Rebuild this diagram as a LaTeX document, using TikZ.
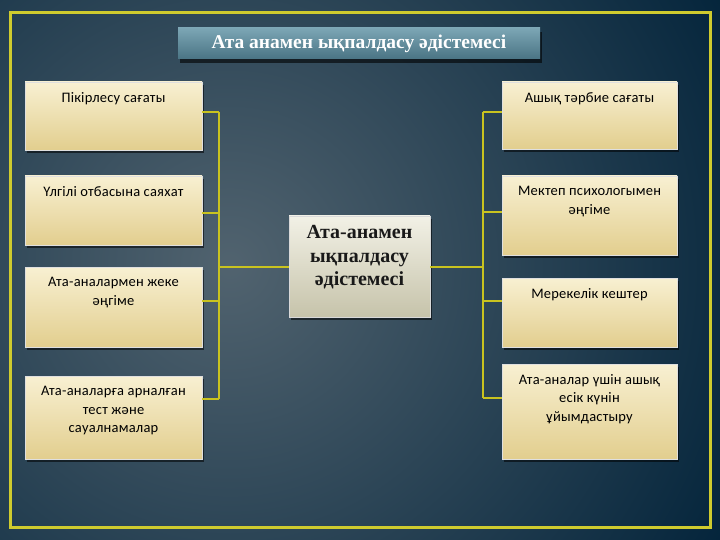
\documentclass[tikz,border=0pt]{standalone}
\usepackage{fontspec}
\setmainfont{Liberation Serif}
\newfontfamily\boxfont[LetterSpace=1.5]{Carlito}
\usetikzlibrary{shadows}
\definecolor{bglight}{HTML}{51636F}
\definecolor{bgdark}{HTML}{02233A}
\definecolor{frameyellow}{HTML}{CFCB2E}
\definecolor{connyellow}{HTML}{C9C31F}
\definecolor{boxtop}{HTML}{F8F0D2}
\definecolor{boxbot}{HTML}{E2CE8E}
\definecolor{ctop}{HTML}{F2F1E6}
\definecolor{cbot}{HTML}{C6C3AA}
\definecolor{ttop}{HTML}{7CA6B5}
\definecolor{tbot}{HTML}{4A7484}
\tikzset{
  itembox/.style={draw=white!75!gray, line width=0.5pt, top color=boxtop, bottom color=boxbot,
    drop shadow={shadow xshift=2pt, shadow yshift=-3pt, opacity=0.55, fill=black},
    inner sep=0, minimum width=#1},
  itembox/.default=177pt,
  boxtext/.style={font=\boxfont\fontsize{14.5}{18.5}\selectfont, align=center, inner sep=0, text=black, anchor=north},
  conn/.style={draw=connyellow, line width=2pt},
  titlebox/.style={top color=ttop, bottom color=tbot, inner sep=0, minimum width=362pt, minimum height=31pt,
    drop shadow={shadow xshift=2pt, shadow yshift=-4pt, opacity=0.6, fill=black},
    font=\bfseries\fontsize{19.5}{21}\selectfont, text=white},
  centerbox/.style={draw=white!70!gray, line width=0.5pt, top color=ctop, bottom color=cbot,
    drop shadow={shadow xshift=2pt, shadow yshift=-3pt, opacity=0.55, fill=black},
    inner sep=0, minimum width=141pt, minimum height=101pt},
  centertext/.style={font=\bfseries\fontsize{20}{23.5}\selectfont, align=center, inner sep=0, text=black!90}
}
\begin{document}
\begin{tikzpicture}[x=1pt,y=-1pt]
\useasboundingbox (0,0) rectangle (720,540);
\begin{scope}
  \clip (0,0) rectangle (720,540);
  \fill[bgdark] (0,0) rectangle (720,540);
  \shade[inner color=bglight, outer color=bgdark] (230,265) circle (580);
\end{scope}
\draw[frameyellow, line width=3pt] (10,13) rectangle (710,527);

\node[titlebox] (title) at (359,43.5) {Ата анамен ықпалдасу әдістемесі};

% left boxes
\node[itembox, minimum height=68pt] (l1) at (113.5,116) {};
\node[itembox, minimum height=69pt] (l2) at (113.5,210.5) {};
\node[itembox, minimum height=80pt] (l3) at (113.5,307) {};
\node[itembox, minimum height=83pt] (l4) at (113.5,417.5) {};
% right boxes
\node[itembox=175pt, minimum height=67pt] (r1) at (589.5,115.5) {};
\node[itembox=175pt, minimum height=79pt] (r2) at (589.5,215.5) {};
\node[itembox=175pt, minimum height=69pt] (r3) at (589.5,312.5) {};
\node[itembox=175pt, minimum height=95pt] (r4) at (589.5,411.5) {};
% center
\node[centerbox] (c) at (359.5,266.5) {};
\node[centertext] (ct) at ([yshift=9pt]c.center) {Ата-анамен\\ықпалдасу\\әдістемесі};

% texts
\node[boxtext] (tl1) at ([yshift=-10.5pt]l1.north) {Пікірлесу сағаты};
\node[boxtext] (tl2) at ([yshift=-10.5pt]l2.north) {Үлгілі отбасына саяхат};
\node[boxtext] (tl3) at ([yshift=-10.5pt]l3.north) {Ата-аналармен жеке\\әңгіме};
\node[boxtext] (tl4) at ([yshift=-10.5pt]l4.north) {Ата-аналарға арналған\\тест және\\сауалнамалар};
\node[boxtext] (tr1) at ([yshift=-10.5pt]r1.north) {Ашық тәрбие сағаты};
\node[boxtext] (tr2) at ([yshift=-10.5pt]r2.north) {Мектеп психологымен\\әңгіме};
\node[boxtext] (tr3) at ([yshift=-10.5pt]r3.north) {Мерекелік кештер};
\node[boxtext] (tr4) at ([yshift=-10.5pt]r4.north) {Ата-аналар үшін ашық\\есік күнін\\ұйымдастыру};

% bus coordinates
\coordinate (lt) at (219,112);
\coordinate (lb) at (219,399);
\coordinate (rt) at (483,112);
\coordinate (rb) at (483,398);

\draw[conn] (lt) -- (lb);
\draw[conn] (rt) -- (rb);
\draw[conn] ([yshift=4pt]l1.east) -- ++(17,0);
\draw[conn] ([yshift=-2.5pt]l2.east) -- ++(17,0);
\draw[conn] ([yshift=6pt]l3.east) -- ++(17,0);
\draw[conn] ([yshift=18.5pt]l4.east) -- ++(17,0);
\draw[conn] ([yshift=3.5pt]r1.west) -- ++(-19,0);
\draw[conn] ([yshift=3.5pt]r2.west) -- ++(-19,0);
\draw[conn] ([yshift=11.5pt]r3.west) -- ++(-19,0);
\draw[conn] ([yshift=13.5pt]r4.west) -- ++(-19,0);
\draw[conn] (c.west -| lt) -- (c.west);
\draw[conn] (c.east) -- (c.east -| rt);
\end{tikzpicture}
\end{document}
